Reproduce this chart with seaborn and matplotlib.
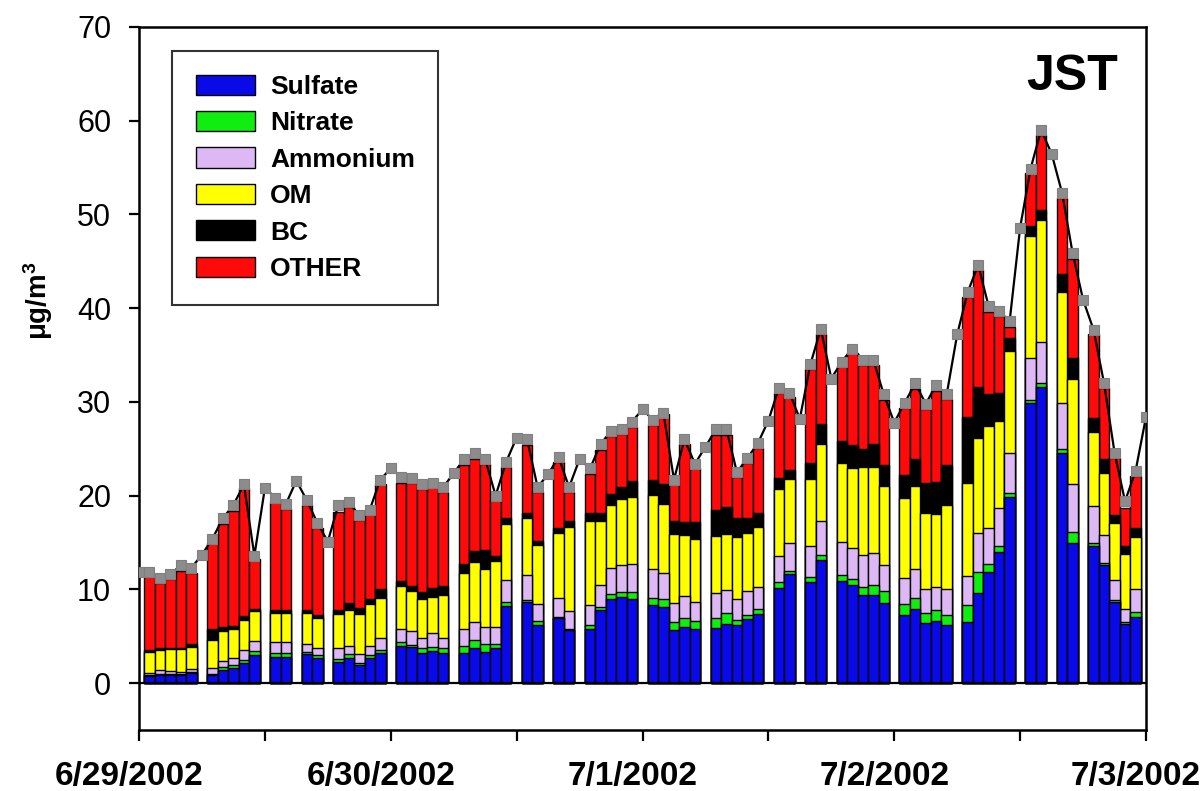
import numpy as np
import pandas as pd
import matplotlib
matplotlib.use("Agg")
import matplotlib.pyplot as plt
import matplotlib.transforms as mtransforms
from matplotlib.patches import Patch
import seaborn as sns

# ---------------- data ----------------
# hours since 6/29/2002 00:00 that have speciated data (stacked bars)
bar_hours = [1, 2, 3, 4, 5, 7, 8, 9, 10, 11, 13, 14, 16, 17, 19, 20, 21, 22, 23,
             25, 26, 27, 28, 29, 31, 32, 33, 34, 35, 37, 38, 40, 41, 43, 44, 45, 46, 47,
             49, 50, 51, 52, 53, 55, 56, 57, 58, 59, 61, 62, 64, 65, 67, 68, 69, 70, 71,
             73, 74, 75, 76, 77, 79, 80, 81, 82, 83, 85, 86, 88, 89, 91, 92, 93, 94, 95]

sulfate = [0.8, 0.9, 0.9, 0.9, 1.1, 0.9, 1.45, 1.6, 2.2, 3.0, 2.8, 2.8, 3.1, 2.7, 2.3, 2.7, 1.9, 2.7, 3.2,
           4.0, 3.9, 3.2, 3.4, 3.2, 3.2, 3.7, 3.3, 3.7, 8.2, 8.7, 6.2, 7.0, 5.7, 5.8, 7.8, 9.0, 9.2, 9.0,
           8.3, 8.1, 5.7, 6.0, 5.8, 5.9, 6.3, 6.2, 6.8, 7.4, 10.2, 11.6, 10.8, 13.1, 10.9, 10.5, 9.4, 9.4, 8.5,
           7.3, 7.9, 6.4, 6.6, 6.2, 6.5, 9.6, 11.9, 14.0, 19.9, 29.9, 31.6, 24.6, 15.0, 14.6, 12.6, 8.7, 6.3, 7.1]
nitrate = [0.1, 0.1, 0.1, 0.1, 0.1, 0.1, 0.25, 0.3, 0.3, 0.4, 0.4, 0.4, 0.2, 0.3, 0.3, 0.4, 0.3, 0.3, 0.3,
           0.4, 0.2, 0.5, 0.5, 0.5, 0.8, 0.9, 0.9, 0.5, 0.5, 0.2, 0.4, 0.1, 0.1, 0.4, 0.3, 0.5, 0.5, 0.7,
           0.8, 0.9, 0.8, 0.9, 0.8, 1.1, 1.2, 0.5, 0.5, 0.5, 0.6, 0.4, 0.5, 0.6, 0.6, 0.6, 0.9, 1.1, 1.3,
           1.1, 1.2, 1.1, 1.2, 1.1, 1.8, 2.3, 0.8, 0.6, 0.4, 0.3, 0.4, 0.4, 1.1, 0.3, 0.2, 0.2, 0.2, 0.5]
ammonium = [0.2, 0.4, 0.3, 0.2, 0.3, 0.6, 0.7, 0.8, 1.0, 1.1, 1.2, 1.2, 0.9, 0.7, 1.1, 0.9, 0.9, 1.0, 1.3,
            1.4, 1.5, 1.1, 1.4, 1.1, 1.8, 1.9, 1.8, 1.8, 2.3, 2.6, 1.8, 2.0, 1.9, 2.1, 2.4, 2.8, 2.9, 3.0,
            3.1, 2.7, 2.1, 2.4, 2.1, 2.6, 2.4, 2.3, 2.5, 2.4, 2.8, 2.9, 3.3, 3.6, 3.6, 3.3, 3.4, 3.4, 2.8,
            2.8, 3.1, 2.5, 2.5, 2.7, 3.1, 4.1, 3.9, 4.1, 4.2, 4.5, 4.4, 4.9, 5.1, 4.0, 3.0, 2.1, 1.4, 2.4]
om = [2.2, 2.1, 2.3, 2.4, 2.4, 3.0, 3.2, 3.1, 3.2, 3.2, 3.1, 3.1, 3.3, 3.3, 3.7, 3.8, 4.3, 4.4, 4.3,
      4.6, 4.2, 4.2, 3.9, 4.6, 5.9, 6.4, 6.2, 7.0, 6.0, 6.1, 6.3, 6.9, 9.0, 9.0, 6.8, 6.7, 7.0, 7.2,
      7.9, 7.4, 7.3, 6.5, 6.7, 6.1, 6.0, 6.6, 6.2, 6.4, 7.1, 6.9, 7.2, 8.2, 8.4, 8.5, 9.4, 9.2, 8.4,
      8.5, 8.8, 8.1, 7.7, 9.0, 9.9, 10.2, 10.8, 9.3, 10.9, 13.0, 13.0, 11.8, 11.3, 7.9, 6.6, 6.1, 5.9, 5.6]
bc = [0.2, 0.3, 0.1, 0.1, 0.3, 1.2, 0.4, 0.3, 0.5, 0.2, 0.3, 0.3, 0.3, 0.3, 0.4, 0.8, 0.6, 0.6, 0.9,
      0.5, 0.6, 0.7, 0.9, 1.0, 1.0, 1.2, 2.0, 0.6, 0.6, 0.6, 0.5, 0.6, 0.6, 0.8, 0.9, 1.2, 1.3, 1.7,
      1.6, 2.1, 1.4, 1.4, 1.8, 2.8, 2.9, 2.0, 1.6, 1.4, 1.2, 0.9, 1.7, 2.1, 2.3, 2.5, 1.9, 2.4, 2.3,
      2.5, 2.9, 3.3, 3.5, 4.3, 7.1, 5.4, 3.4, 3.0, 1.4, 1.1, 1.1, 1.9, 2.2, 1.5, 1.5, 0.8, 0.8, 0.9]
other = [8.1, 6.9, 7.4, 8.3, 7.6, 9.2, 11.0, 12.3, 13.6, 5.3, 11.5, 10.8, 11.2, 9.3, 10.5, 10.2, 9.4, 9.0, 11.2,
         10.5, 10.9, 11.0, 10.8, 10.0, 10.6, 9.8, 9.2, 5.9, 5.5, 7.2, 5.2, 7.0, 3.1, 4.2, 6.7, 6.2, 5.7, 5.7,
         5.8, 7.5, 3.9, 8.3, 5.7, 8.0, 7.7, 4.4, 5.9, 7.0, 9.0, 7.8, 10.0, 9.7, 8.0, 9.8, 8.9, 8.4, 6.9,
         7.1, 7.5, 7.8, 9.7, 7.0, 12.8, 12.5, 8.8, 8.2, 1.2, 5.6, 8.0, 8.2, 10.6, 8.9, 7.6, 6.1, 4.1, 5.6]

# measured total mass, every hour 0..96
line_hours = list(range(97))
total_mass = [11.9, 11.9, 11.2, 11.6, 12.6, 12.3, 13.7, 15.4, 17.6, 19.0, 21.2, 13.6, 20.8, 19.8, 19.1, 21.6,
              19.5, 17.1, 15.1, 19.0, 19.3, 17.9, 18.5, 21.7, 22.9, 22.0, 21.9, 21.2, 21.4, 20.9, 22.4, 23.9,
              24.5, 23.9, 20.0, 23.6, 26.2, 26.0, 20.9, 22.3, 24.1, 20.9, 23.9, 22.9, 25.5, 26.9, 27.1, 27.9,
              29.2, 28.1, 28.8, 21.7, 26.0, 23.4, 25.2, 27.1, 27.1, 22.5, 24.0, 25.6, 28.0, 31.5, 31.0, 28.2,
              34.0, 37.8, 32.5, 34.3, 35.7, 34.5, 34.5, 30.8, 27.8, 29.9, 32.0, 29.8, 31.8, 30.8, 37.2, 41.7,
              44.6, 40.2, 39.7, 38.6, 48.6, 54.9, 59.0, 56.5, 52.3, 45.9, 40.9, 37.7, 32.0, 24.6, 19.4, 22.6, 28.4]

species = ["Sulfate", "Nitrate", "Ammonium", "OM", "BC", "OTHER"]
colors = ["#0A0AE8", "#10EE10", "#DDB8F4", "#FFFF00", "#000000", "#FF0A0A"]

x_ticks = [0, 24, 48, 72, 96]
x_ticklabels = ["6/29/2002", "6/30/2002", "7/1/2002", "7/2/2002", "7/3/2002"]
y_ticks = [0, 10, 20, 30, 40, 50, 60, 70]

# ---------------- figure ----------------
sns.set_theme(style="ticks", rc={"text.color": "black", "axes.labelcolor": "black",
                                 "xtick.color": "black", "ytick.color": "black",
                                 "axes.edgecolor": "black"})
plt.rcParams["font.family"] = ["Liberation Sans", "DejaVu Sans"]
plt.rcParams["mathtext.fontset"] = "custom"
plt.rcParams["mathtext.rm"] = "Liberation Sans:bold"
plt.rcParams["mathtext.default"] = "rm"

fig = plt.figure(figsize=(12.04, 7.91), dpi=100)
W, H = 1204, 791
ax = fig.add_axes([139 / W, 1 - 730 / H, (1146 - 139) / W, (730 - 27) / H])

df = pd.DataFrame({"hour": bar_hours, "Sulfate": sulfate, "Nitrate": nitrate,
                   "Ammonium": ammonium, "OM": om, "BC": bc, "OTHER": other})
cum = df[species].cumsum(axis=1)

# layer-cake: draw tallest cumulative first, then each lower layer over it
for sp, col in reversed(list(zip(species, colors))):
    sns.barplot(x=df["hour"], y=cum[sp], native_scale=True, width=1.0, color=col,
                saturation=1, edgecolor="black", linewidth=1.0, errorbar=None, ax=ax)

ax.axhline(0, color="black", lw=1.6, zorder=4)

sns.lineplot(x=line_hours, y=total_mass, ax=ax, color="black", linewidth=1.6,
             marker="s", markersize=7, markerfacecolor="#8c8c8c",
             markeredgecolor="#7f7f7f", markeredgewidth=0.8, zorder=10)

ax.set_xlim(0, 96)
ax.set_ylim(-5, 70)
ax.set_xticks(x_ticks)
ax.set_xticklabels(x_ticklabels, fontsize=24, fontweight="bold", color="black")
ax.set_xticks([12, 36, 60, 84], minor=True)
ax.set_yticks(y_ticks)
ax.set_yticklabels([str(v) for v in y_ticks], fontsize=22, color="black")
ax.set_xlabel("")
ax.set_ylabel("")

for s in ax.spines.values():
    s.set_visible(True)
    s.set_color("black")
    s.set_linewidth(1.8)

ax.tick_params(axis="x", which="both", direction="out", length=8, width=1.6,
               color="black", pad=14)
ax.tick_params(axis="y", which="both", direction="out", length=7, width=1.6,
               color="black", pad=13)

# shift x tick labels slightly left, as in the reference
offset = mtransforms.ScaledTranslation(-10 / 100, 0, fig.dpi_scale_trans)
for lab in ax.get_xticklabels():
    lab.set_transform(lab.get_transform() + offset)

fig.text(38 / W, 1 - 301 / H, r"μg/m$^{3}$", rotation=90, ha="center", va="center",
         fontsize=20, fontweight="bold", color="black")

fig.text(1072 / W, 1 - 90 / H, "JST", ha="center", va="baseline",
         fontsize=36, fontweight="bold", color="black")

handles = [Patch(facecolor=c, edgecolor="black", linewidth=1.0) for c in colors]
leg = ax.legend(handles, species, loc="upper left", bbox_to_anchor=(0.033, 0.966),
                borderaxespad=0, frameon=True, fancybox=False, edgecolor="black",
                prop={"size": 19, "weight": "bold"}, handlelength=2.25, handleheight=0.8,
                handletextpad=0.55, borderpad=0.9, labelspacing=0.46)
leg.get_frame().set_linewidth(1.5)
for t in leg.get_texts():
    t.set_color("black")
leg.set_zorder(20)

fig.savefig("out.png", dpi=100)
